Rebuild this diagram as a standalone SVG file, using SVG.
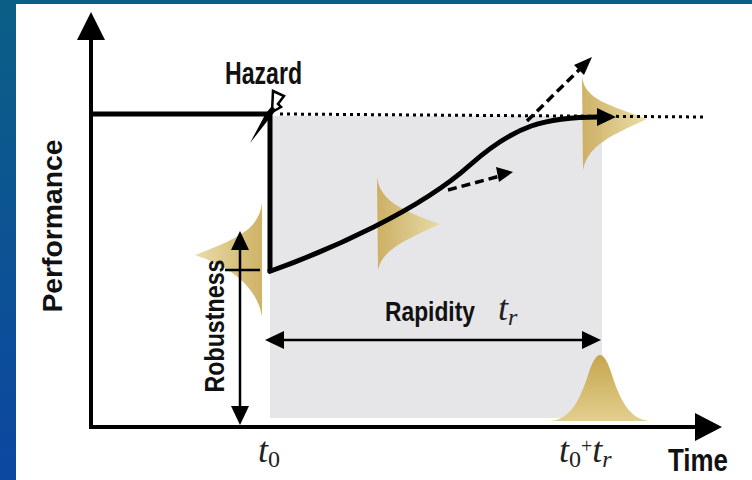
<svg xmlns="http://www.w3.org/2000/svg" width="752" height="480" viewBox="0 0 752 480">
<defs>
<linearGradient id="bg" x1="0" y1="0" x2="0" y2="1">
<stop offset="0" stop-color="#0b5f86"/>
<stop offset="1" stop-color="#0c47a0"/>
</linearGradient>
<linearGradient id="goldH" x1="0" y1="0" x2="1" y2="0">
<stop offset="0" stop-color="#c9aa55"/>
<stop offset="1" stop-color="#e8d8a0"/>
</linearGradient>
<linearGradient id="goldL" x1="1" y1="0" x2="0" y2="0">
<stop offset="0" stop-color="#c9aa55"/>
<stop offset="1" stop-color="#e8d8a0"/>
</linearGradient>
<linearGradient id="goldV" x1="0" y1="0" x2="0" y2="1">
<stop offset="0" stop-color="#c6a54f"/>
<stop offset="1" stop-color="#e2cf8e"/>
</linearGradient>
</defs>
<style>
.lbl{font-family:"Liberation Sans Narrow","Liberation Sans",Arial,sans-serif;font-weight:bold;fill:#111}
.math{font-family:"Liberation Serif","Times New Roman",serif;font-style:italic;fill:#222}
.thick{stroke:#000;stroke-width:5;fill:none}
.axis{stroke:#000;stroke-width:4;fill:none}
.thin{stroke:#000;stroke-width:2.5;fill:none}
.dash{stroke:#000;stroke-width:3.5;stroke-dasharray:9 5;fill:none}
.dot{stroke:#000;stroke-width:3;stroke-dasharray:3 4;fill:none}
.head{fill:#000}
</style>
<rect x="0" y="0" width="752" height="480" fill="url(#bg)"/>
<rect x="16" y="4" width="736" height="476" fill="#fff"/>

<g id="window">
<rect x="270" y="116" width="332" height="302" fill="#e6e5e8"/>
</g>

<g id="distributions">
<path d="M262,203 C259,228 240,238 195,255 C235,268 258,290 262,317 Z" fill="url(#goldL)" opacity="0.9"/>
<path d="M377,177 C380,200 400,210 440,224 C405,240 382,250 378,270 Z" fill="url(#goldH)" opacity="0.9"/>
<path d="M582,77 C585,100 610,105 647,119 C612,135 588,145 583,170 Z" fill="url(#goldH)" opacity="0.9"/>
<path d="M550,421 C570,420 580,400 588,375 C592,362 596,355 600,355 C604,355 608,362 612,375 C620,400 630,420 650,421 Z" fill="url(#goldV)"/>
</g>

<g id="axes">
<line class="axis" x1="91" y1="36" x2="91" y2="428"/>
<path class="head" d="M91,12 L105,40 L77,40 Z"/>
<line class="axis" x1="89" y1="427" x2="698" y2="427"/>
<path class="head" d="M722,427 L695,413 L695,441 Z"/>
</g>

<g id="connectors">
<line class="thick" x1="91" y1="114" x2="270" y2="114"/>
<line class="thick" x1="270" y1="112" x2="270" y2="273"/>
<path class="thick" d="M268,272 C330,250 420,210 470,165 C515,125 545,117 600,117"/>
<path class="head" d="M616,117 L597,108 L597,126 Z"/>
<line class="dot" x1="280" y1="114" x2="706" y2="117"/>
<line class="dash" x1="527" y1="121" x2="582" y2="67"/>
<path class="head" d="M592,57 L574,65 L584,75 Z"/>
<line class="dash" x1="448" y1="190" x2="500" y2="176"/>
<path class="head" d="M513,172 L496,167 L499,182 Z"/>
<line class="thin" x1="240" y1="246" x2="240" y2="410"/>
<path class="head" d="M240,231 L249,250 L231,250 Z"/>
<path class="head" d="M240,425 L249,406 L231,406 Z"/>
<line class="thin" x1="225" y1="270" x2="260" y2="270"/>
<line class="thin" x1="280" y1="340" x2="586" y2="340"/>
<path class="head" d="M265,340 L284,331 L284,349 Z"/>
<path class="head" d="M601,340 L582,331 L582,349 Z"/>
</g>

<g id="hazard">
<path d="M273,91 L284,96 L278,104 L281,107 L272,112 Z" fill="#fff" stroke="#000" stroke-width="2.5"/>
<path d="M272,106 L276,110 L250,143 L266,113 Z" fill="#000"/>
<text class="lbl" x="225" y="84" font-size="32" textLength="77" lengthAdjust="spacingAndGlyphs">Hazard</text>
</g>

<g id="labels">
<text class="lbl" transform="translate(62,226) rotate(-90)" x="0" y="0" text-anchor="middle" font-size="28" textLength="173" lengthAdjust="spacingAndGlyphs">Performance</text>
<text class="lbl" transform="translate(224,326) rotate(-90)" x="0" y="0" text-anchor="middle" font-size="28" textLength="133" lengthAdjust="spacingAndGlyphs">Robustness</text>
<text class="lbl" x="385" y="321" font-size="28" textLength="90" lengthAdjust="spacingAndGlyphs">Rapidity</text>
<text class="math" x="498" y="320" font-size="36">t<tspan font-size="24" dy="5">r</tspan></text>
<text class="math" x="258" y="462" font-size="36">t<tspan font-style="normal" font-size="24" dy="5">0</tspan></text>
<text class="math" x="559" y="462" font-size="36">t<tspan font-style="normal" font-size="24" dy="5">0</tspan><tspan font-style="normal" font-size="20" dy="-14">+</tspan><tspan dy="9">t</tspan><tspan font-size="24" dy="5">r</tspan></text>
<text class="lbl" x="668" y="471" font-size="31" textLength="60" lengthAdjust="spacingAndGlyphs">Time</text>
</g>
</svg>
